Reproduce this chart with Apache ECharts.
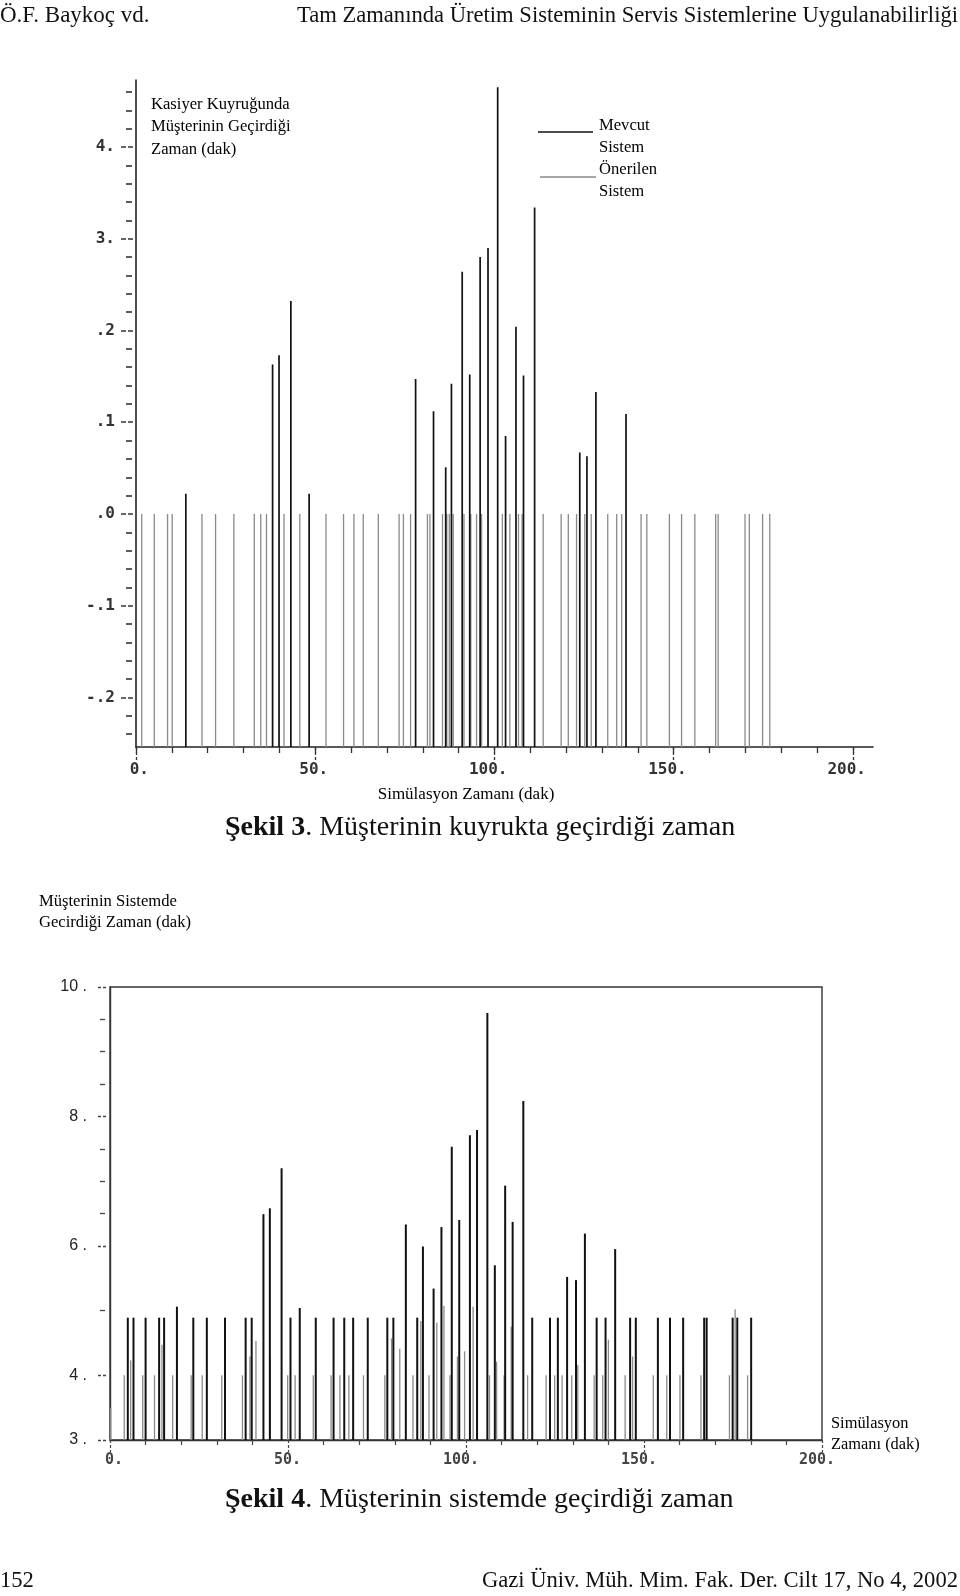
<!DOCTYPE html>
<html><head><meta charset="utf-8">
<script src="https://cdn.jsdelivr.net/npm/echarts@6/dist/echarts.min.js"></script>
<style>html,body{margin:0;padding:0;background:#fff}#c{width:960px;height:1596px}</style>
</head><body><div id="c"></div>
<script>
// ---------- Şekil 3 : kuyrukta geçirilen zaman ----------
const topCurrentTimes  = [13.9, 38.1, 39.9, 43.2, 48.3, 78.0, 83.0, 86.4, 88.0, 91.0, 93.1, 96.0, 98.2, 100.9, 103.1, 106.0, 108.1, 111.2, 123.8, 125.8, 128.3, 136.7];
const topCurrentValues = [0.022, 0.163, 0.173, 0.232, 0.022, 0.147, 0.112, 0.051, 0.142, 0.264, 0.152, 0.280, 0.290, 0.465, 0.085, 0.204, 0.151, 0.334, 0.067, 0.063, 0.133, 0.109];
const topProposedTimes = [1.6, 5.1, 8.8, 10.1, 18.4, 22.2, 27.3, 33.0, 34.8, 36.4, 41.3, 45.7, 53.0, 57.9, 60.8, 63.4, 67.6, 73.4, 74.6, 76.6, 81.3, 82.0, 85.5, 86.7, 87.4, 88.5, 91.5, 93.4, 95.0, 96.4, 102.2, 104.3, 106.7, 107.7, 113.6, 118.6, 120.6, 122.9, 125.2, 127.0, 131.6, 134.1, 135.5, 140.9, 142.5, 148.8, 152.2, 155.9, 161.7, 162.4, 169.9, 171.1, 174.8, 176.8];
const topProposedValues = [0,0,0,0,0,0,0,0,0,0,0,0,0,0,0,0,0,0,0,0,0,0,0,0,0,0,0,0,0,0,0,0,0,0,0,0,0,0,0,0,0,0,0,0,0,0,0,0,0,0,0,0,0,0];
const topXMajor = [0, 50, 100, 150, 200];
const topXTickLabels = ['0.', '50.', '100.', '150.', '200.'];
const topXMinor = [0, 10, 20, 30, 40, 50, 60, 70, 80, 90, 100, 110, 120, 130, 140, 150, 160, 170, 180, 190, 200];
const topYMajor = [0.4, 0.3, 0.2, 0.1, 0, -0.1, -0.2];
const topYTickLabels = ['4.', '3.', '.2', '.1', '.0', '-.1', '-.2'];
const topYMinor = [0.46, 0.44, 0.42, 0.38, 0.36, 0.34, 0.32, 0.28, 0.26, 0.24, 0.22, 0.18, 0.16, 0.14, 0.12, 0.08, 0.06, 0.04, 0.02, -0.02, -0.04, -0.06, -0.08, -0.12, -0.14, -0.16, -0.18, -0.22, -0.24];

// ---------- Şekil 4 : sistemde geçirilen zaman ----------
const botCurrentTimes  = [5.0, 6.6, 10.0, 13.8, 15.2, 18.8, 23.4, 27.2, 32.3, 38.1, 39.8, 43.1, 44.9, 48.2, 50.7, 53.3, 57.8, 62.8, 65.8, 68.3, 72.4, 77.9, 79.6, 83.1, 86.3, 87.9, 90.9, 93.1, 96.0, 98.1, 101.1, 103.1, 106.0, 108.1, 111.0, 113.1, 116.1, 118.6, 123.6, 125.8, 128.4, 130.9, 133.4, 136.7, 139.2, 141.9, 146.1, 147.7, 153.9, 157.3, 161.0, 166.9, 167.6, 174.9, 176.2, 180.1];
const botCurrentValues = [4.89, 4.89, 4.89, 4.89, 4.89, 5.06, 4.89, 4.89, 4.89, 4.89, 4.89, 6.49, 6.58, 7.20, 4.89, 5.04, 4.89, 4.89, 4.89, 4.89, 4.89, 4.89, 4.89, 6.33, 4.89, 5.99, 5.34, 6.29, 7.53, 6.40, 7.71, 7.79, 9.60, 5.70, 6.93, 6.37, 8.24, 4.89, 4.89, 4.89, 5.52, 5.47, 6.19, 4.89, 4.89, 5.95, 4.89, 4.89, 4.89, 4.89, 4.89, 4.89, 4.89, 4.89, 4.89, 4.89];
const botProposedTimes  = [0.2, 4.0, 5.8, 9.2, 12.5, 14.6, 17.6, 22.8, 25.9, 31.4, 37.2, 39.3, 41.0, 45.0, 49.9, 52.0, 57.1, 62.1, 64.6, 67.1, 71.2, 77.2, 79.1, 81.4, 85.1, 87.3, 89.6, 91.8, 93.8, 95.5, 97.6, 99.6, 102.0, 106.6, 108.6, 110.7, 112.7, 117.3, 122.5, 124.9, 127.0, 129.7, 131.4, 136.0, 138.4, 140.0, 144.7, 146.8, 152.6, 156.4, 160.1, 166.0, 174.0, 175.6, 179.1];
const botProposedValues = [3.5, 4.0, 4.23, 4.0, 4.0, 4.47, 4.0, 4.0, 4.0, 4.0, 4.0, 4.29, 4.53, 4.26, 4.0, 4.0, 4.0, 4.0, 4.0, 4.0, 4.0, 4.0, 4.57, 4.41, 4.0, 4.84, 4.0, 4.81, 5.07, 4.0, 4.29, 4.37, 5.06, 4.0, 4.21, 4.0, 4.75, 4.0, 4.0, 4.0, 4.0, 4.0, 4.16, 4.0, 4.0, 4.55, 4.0, 4.29, 4.0, 4.0, 4.0, 4.0, 4.0, 5.02, 4.0];
const botXMajor = [0, 50, 100, 150, 200];
const botXTickLabels = ['0.', '50.', '100.', '150.', '200.'];
const botXMinor = [10, 20, 30, 40, 60, 70, 80, 90, 110, 120, 130, 140, 160, 170, 180, 190];
const botYMajor = [10, 8, 6, 4, 3];
const botYTickLabels = ['10 .', '8 .', '6 .', '4 .', '3 .'];
const botYMinor = [9.5, 9, 8.5, 7.5, 7, 6.5, 5];

// ---------- helpers ----------
const TOP_MIN = -0.254, TOP_MAX = 0.473, BOT_MIN = 3, BOT_MAX = 10;
function zip(a, b) { return a.map((t, i) => [t, b[i]]); }
function labelOf(values, labels) {
  return function (v) {
    for (let i = 0; i < values.length; i++) if (Math.abs(values[i] - v) < 1e-9) return labels[i];
    return '';
  };
}
function stem(color, width, base) {
  return function (params, api) {
    const x = api.value(0), v = api.value(1);
    const a = api.coord([x, base]);
    const b = api.coord([x, v]);
    return { type: 'line', silent: true,
      shape: { x1: a[0], y1: a[1], x2: b[0], y2: b[1] },
      style: { stroke: color, lineWidth: width } };
  };
}
const MONO = '"DejaVu Sans Mono"';
const SERIF = '"Liberation Serif"';
const axisBase = { type: 'value', splitLine: { show: false } };

const chart = echarts.init(document.getElementById('c'), null, { renderer: 'canvas' });
chart.setOption({
  animation: false,
  backgroundColor: '#fff',
  grid: [
    { left: 136, top: 80, width: 737, height: 667, outerBoundsMode: 'none' },
    { left: 110, top: 987, width: 712, height: 453, outerBoundsMode: 'none',
      show: true, borderColor: '#333', borderWidth: 1.4, backgroundColor: 'transparent' }
  ],
  xAxis: [
    Object.assign({}, axisBase, { gridIndex: 0, min: 0, max: 205.6, position: 'bottom',
      axisLine: { show: true, onZero: false, lineStyle: { color: '#222', width: 1.6 } },
      axisTick: { show: true, customValues: topXMinor, length: 6, lineStyle: { color: '#333', width: 1.3 } },
      axisLabel: { show: false } }),
    Object.assign({}, axisBase, { gridIndex: 0, min: 0, max: 205.6, position: 'bottom',
      axisLine: { show: false, onZero: false },
      axisTick: { show: true, customValues: topXMajor, length: 13, lineStyle: { color: '#333', width: 1.3, type: [3, 2] } },
      axisLabel: { show: true, customValues: topXMajor, formatter: labelOf(topXMajor, topXTickLabels),
        fontFamily: MONO, fontWeight: 'bold', fontSize: 16, color: '#333', margin: 15,
        align: 'right', padding: [0, -13, 0, 0] } }),
    Object.assign({}, axisBase, { gridIndex: 1, min: 0, max: 200, position: 'bottom',
      axisLine: { show: true, onZero: false, lineStyle: { color: '#333', width: 1.4 } },
      axisTick: { show: true, customValues: botXMinor, length: 5, lineStyle: { color: '#444', width: 1.2 } },
      axisLabel: { show: false } }),
    Object.assign({}, axisBase, { gridIndex: 1, min: 0, max: 200, position: 'bottom',
      axisLine: { show: false, onZero: false },
      axisTick: { show: true, customValues: botXMajor, length: 12, lineStyle: { color: '#444', width: 1.2, type: [3, 2] } },
      axisLabel: { show: true, customValues: botXMajor, formatter: labelOf(botXMajor, botXTickLabels),
        fontFamily: MONO, fontWeight: 'bold', fontSize: 15, color: '#444', margin: 13,
        align: 'right', padding: [0, -13, 0, 0] } })
  ],
  yAxis: [
    Object.assign({}, axisBase, { gridIndex: 0, min: TOP_MIN, max: TOP_MAX, position: 'left',
      axisLine: { show: true, onZero: false, lineStyle: { color: '#222', width: 1.6 } },
      axisTick: { show: false },
      axisLabel: { show: true, customValues: topYMajor, formatter: labelOf(topYMajor, topYTickLabels),
        fontFamily: MONO, fontWeight: 'bold', fontSize: 16, color: '#333', margin: 21 } }),
    Object.assign({}, axisBase, { gridIndex: 0, min: TOP_MIN, max: TOP_MAX, position: 'left', offset: 4,
      axisLine: { show: false, onZero: false },
      axisTick: { show: true, customValues: topYMinor, length: 6, lineStyle: { color: '#333', width: 1.6 } },
      axisLabel: { show: false } }),
    Object.assign({}, axisBase, { gridIndex: 0, min: TOP_MIN, max: TOP_MAX, position: 'left', offset: 3,
      axisLine: { show: false, onZero: false },
      axisTick: { show: true, customValues: topYMajor, length: 13, lineStyle: { color: '#333', width: 1.6, type: [5, 2] } },
      axisLabel: { show: false } }),
    Object.assign({}, axisBase, { gridIndex: 1, min: BOT_MIN, max: BOT_MAX, position: 'left',
      axisLine: { show: true, onZero: false, lineStyle: { color: '#333', width: 1.4 } },
      axisTick: { show: false },
      axisLabel: { show: true, customValues: botYMajor, formatter: labelOf(botYMajor, botYTickLabels),
        fontFamily: '"Liberation Sans"', fontSize: 16, color: '#222', margin: 23 } }),
    Object.assign({}, axisBase, { gridIndex: 1, min: BOT_MIN, max: BOT_MAX, position: 'left', offset: 5,
      axisLine: { show: false, onZero: false },
      axisTick: { show: true, customValues: botYMinor, length: 5, lineStyle: { color: '#444', width: 1.3 } },
      axisLabel: { show: false } }),
    Object.assign({}, axisBase, { gridIndex: 1, min: BOT_MIN, max: BOT_MAX, position: 'left', offset: 4,
      axisLine: { show: false, onZero: false },
      axisTick: { show: true, customValues: botYMajor, length: 10, lineStyle: { color: '#444', width: 1.3, type: [3, 2] } },
      axisLabel: { show: false } })
  ],
  series: [
    { name: 'Önerilen Sistem', type: 'custom', xAxisIndex: 0, yAxisIndex: 0, z: 2,
      renderItem: stem('#8a8a8a', 1.3, TOP_MIN), data: zip(topProposedTimes, topProposedValues) },
    { name: 'Mevcut Sistem', type: 'custom', xAxisIndex: 0, yAxisIndex: 0, z: 3,
      renderItem: stem('#111', 1.7, TOP_MIN), data: zip(topCurrentTimes, topCurrentValues) },
    { name: 'Önerilen Sistem', type: 'custom', xAxisIndex: 2, yAxisIndex: 3, z: 2,
      renderItem: stem('#8a8a8a', 1.3, BOT_MIN), data: zip(botProposedTimes, botProposedValues) },
    { name: 'Mevcut Sistem', type: 'custom', xAxisIndex: 2, yAxisIndex: 3, z: 3,
      renderItem: stem('#111', 2, BOT_MIN), data: zip(botCurrentTimes, botCurrentValues) }
  ],
  graphic: [
    { type: 'text', style: { text: 'Ö.F. Baykoç vd.', x: 0, y: 16, textVerticalAlign: 'middle',
      fontFamily: SERIF, fontSize: 23, fill: '#111' } },
    { type: 'text', style: { text: 'Tam Zamanında Üretim Sisteminin Servis Sistemlerine Uygulanabilirliği',
      x: 958, y: 16, textAlign: 'right', textVerticalAlign: 'middle', fontFamily: SERIF, fontSize: 22.6, fill: '#111' } },
    { type: 'text', style: { text: 'Kasiyer Kuyruğunda\nMüşterinin Geçirdiği\nZaman (dak)', x: 151, y: 93,
      lineHeight: 22.5, fontFamily: SERIF, fontSize: 16.6, fill: '#000' } },
    { type: 'line', shape: { x1: 538, y1: 132, x2: 593, y2: 132 }, style: { stroke: '#111', lineWidth: 1.6 } },
    { type: 'text', style: { text: 'Mevcut\nSistem', x: 599, y: 114, lineHeight: 22.5, fontFamily: SERIF, fontSize: 16.6, fill: '#000' } },
    { type: 'line', shape: { x1: 540, y1: 177, x2: 596, y2: 177 }, style: { stroke: '#888', lineWidth: 1.6 } },
    { type: 'text', style: { text: 'Önerilen\nSistem', x: 599, y: 158, lineHeight: 22.5, fontFamily: SERIF, fontSize: 16.6, fill: '#000' } },
    { type: 'text', style: { text: 'Simülasyon Zamanı (dak)', x: 466, y: 795, textAlign: 'center', textVerticalAlign: 'middle',
      fontFamily: SERIF, fontSize: 17, fill: '#000' } },
    { type: 'text', style: { text: '{b|Şekil 3}. Müşterinin kuyrukta geçirdiği zaman', x: 225, y: 828, textVerticalAlign: 'middle',
      fontFamily: SERIF, fontSize: 28, fill: '#111',
      rich: { b: { fontFamily: SERIF, fontSize: 28, fontWeight: 'bold', fill: '#111' } } } },
    { type: 'text', style: { text: 'Müşterinin Sistemde\nGecirdiği Zaman (dak)', x: 39, y: 891, lineHeight: 21,
      fontFamily: SERIF, fontSize: 16.6, fill: '#000' } },
    { type: 'text', style: { text: 'Simülasyon\nZamanı (dak)', x: 831, y: 1413, lineHeight: 21,
      fontFamily: SERIF, fontSize: 16.4, fill: '#000' } },
    { type: 'text', style: { text: '{b|Şekil 4}. Müşterinin sistemde geçirdiği zaman', x: 225, y: 1500, textVerticalAlign: 'middle',
      fontFamily: SERIF, fontSize: 28, fill: '#111',
      rich: { b: { fontFamily: SERIF, fontSize: 28, fontWeight: 'bold', fill: '#111' } } } },
    { type: 'text', style: { text: '152', x: 0, y: 1581, textVerticalAlign: 'middle', fontFamily: SERIF, fontSize: 22.6, fill: '#111' } },
    { type: 'text', style: { text: 'Gazi Üniv. Müh. Mim. Fak. Der. Cilt 17, No 4, 2002', x: 958, y: 1581, textAlign: 'right',
      textVerticalAlign: 'middle', fontFamily: SERIF, fontSize: 22.6, fill: '#111' } }
  ]
});
</script></body></html>
